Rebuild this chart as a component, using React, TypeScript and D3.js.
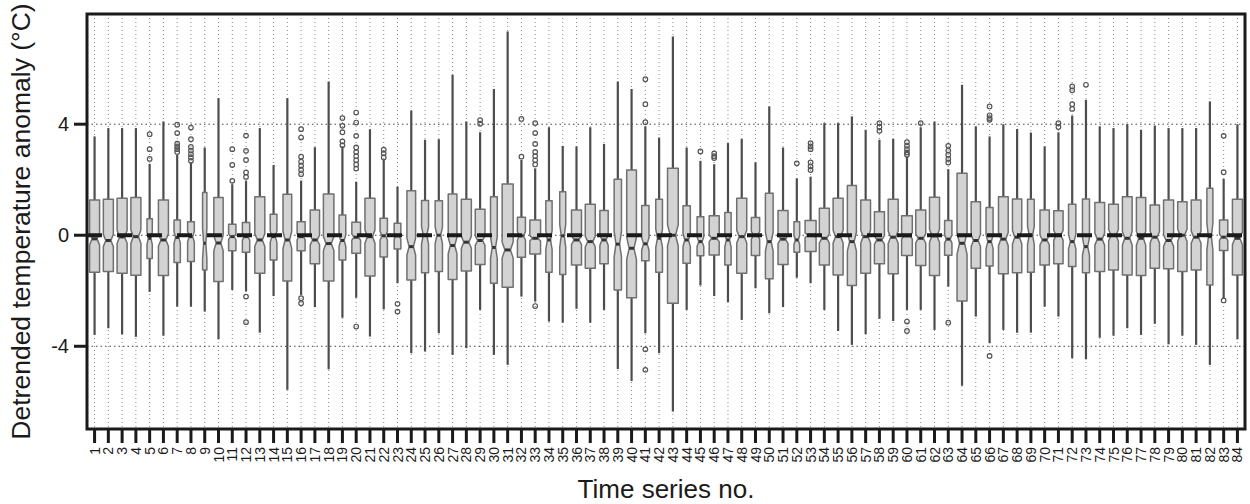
import React from "react";
import * as d3 from "d3";

// ---- data ----
const seriesNo: number[] = d3.range(1, 85);

const sampleN: number[] = [
  350, 350, 350, 350, 98, 350, 139, 157, 65, 303,
  187, 187, 350, 157, 265, 224, 303, 386, 157, 265,
  350, 187, 157, 265, 172, 187, 265, 350, 330, 157,
  424, 224, 401, 139, 126, 350, 350, 241, 187, 330,
  187, 157, 401, 187, 157, 350, 139, 350, 241, 208,
  350, 114, 424, 350, 350, 284, 330, 350, 350, 401,
  350, 350, 187, 350, 303, 172, 330, 303, 157, 303,
  303, 187, 172, 330, 330, 330, 303, 303, 350, 303,
  330, 126, 241, 350,
];

const whiskerLow: number[] = [
  -3.59, -3.35, -3.57, -3.66, -2.04, -3.62, -2.57, -2.57, -2.75, -3.75,
  -1.97, -2.03, -3.51, -2.19, -5.57, -2.15, -2.59, -4.83, -2.97, -2.25,
  -3.65, -2.67, -1.73, -4.25, -4.19, -3.53, -4.31, -4.07, -2.69, -4.31,
  -4.67, -2.21, -2.39, -3.11, -3.15, -2.65, -3.15, -2.69, -4.82, -5.25,
  -3.53, -4.25, -6.35, -2.69, -1.81, -2.19, -2.41, -3.05, -1.91, -2.81,
  -2.59, -1.53, -1.73, -2.69, -3.45, -3.95, -3.56, -3.01, -3.09, -2.69,
  -2.69, -3.41, -1.85, -5.42, -2.93, -3.89, -3.41, -3.51, -3.51, -2.57,
  -2.93, -4.43, -4.47, -3.69, -3.62, -3.35, -3.59, -3.19, -3.93, -3.62,
  -3.95, -4.67, -2.27, -3.75,
];

const lowerQuartile: number[] = [
  -1.33, -1.31, -1.37, -1.44, -0.84, -1.45, -0.98, -0.95, -1.25, -1.67,
  -0.56, -0.61, -1.37, -0.89, -1.65, -0.56, -1.03, -1.65, -0.89, -0.65,
  -1.47, -0.78, -0.5, -1.61, -1.35, -1.31, -1.59, -1.29, -1.05, -1.73,
  -1.87, -0.79, -0.68, -1.33, -1.41, -1.07, -1.19, -1.03, -1.97, -2.25,
  -0.92, -1.33, -2.45, -1.01, -0.74, -0.71, -1.07, -1.37, -0.73, -1.57,
  -1.05, -0.61, -0.59, -1.07, -1.43, -1.81, -1.37, -1.03, -1.39, -0.73,
  -1.09, -1.45, -0.72, -2.37, -1.19, -1.11, -1.39, -1.35, -1.33, -1.07,
  -1.03, -1.13, -1.35, -1.31, -1.25, -1.43, -1.45, -1.19, -1.21, -1.31,
  -1.25, -1.79, -0.55, -1.43,
];

const medianValue: number[] = [
  -0.13, -0.19, -0.06, -0.05, -0.11, -0.17, -0.08, -0.05, -0.29, -0.28,
  -0.05, -0.05, -0.17, -0.05, -0.17, -0.05, -0.17, -0.3, -0.19, -0.07,
  -0.05, -0.02, -0.02, -0.41, 0.0, 0.0, -0.37, -0.25, -0.19, -0.44,
  -0.53, -0.02, -0.11, -0.17, -0.02, -0.17, -0.23, -0.17, -0.32, -0.47,
  -0.31, -0.11, 0.0, -0.17, -0.23, -0.11, -0.17, -0.05, 0.0, -0.23,
  -0.14, -0.17, 0.0, -0.11, -0.05, -0.23, -0.05, -0.17, -0.07, -0.02,
  -0.11, -0.02, -0.14, -0.29, -0.19, -0.23, -0.14, -0.07, 0.0, -0.17,
  0.0, -0.23, -0.41, -0.14, 0.0, -0.11, -0.11, -0.07, -0.19, 0.0,
  -0.07, -0.05, -0.07, -0.11,
];

const upperQuartile: number[] = [
  1.27, 1.3, 1.33, 1.36, 0.59, 1.27, 0.55, 0.49, 1.54, 1.36,
  0.4, 0.46, 1.39, 0.76, 1.48, 0.49, 0.91, 1.49, 0.73, 0.47,
  1.33, 0.61, 0.43, 1.6, 1.25, 1.24, 1.49, 1.3, 0.94, 1.39,
  1.85, 0.65, 0.55, 1.24, 1.57, 0.91, 1.12, 0.89, 2.02, 2.35,
  1.07, 1.3, 2.41, 1.06, 0.67, 0.7, 0.82, 1.33, 0.64, 1.51,
  0.89, 0.49, 0.53, 0.97, 1.33, 1.79, 1.27, 0.85, 1.3, 0.7,
  0.91, 1.37, 0.53, 2.23, 1.21, 1.0, 1.39, 1.31, 1.3, 0.91,
  0.88, 1.12, 1.31, 1.18, 1.12, 1.39, 1.36, 1.09, 1.27, 1.21,
  1.27, 1.69, 0.55, 1.3,
];

const whiskerHigh: number[] = [
  3.56, 3.86, 3.86, 3.86, 2.57, 4.1, 2.89, 2.62, 3.16, 4.94,
  1.84, 1.97, 3.86, 2.53, 4.94, 1.97, 3.17, 5.54, 3.2, 1.93,
  3.82, 2.71, 1.75, 4.49, 3.44, 3.46, 5.78, 4.1, 3.71, 5.27,
  7.34, 2.71, 2.41, 3.89, 3.22, 3.2, 3.89, 3.29, 5.54, 5.27,
  3.92, 3.52, 7.16, 3.16, 2.68, 2.56, 3.32, 3.47, 2.63, 4.64,
  3.16, 2.05, 2.11, 4.04, 4.04, 4.28, 3.8, 3.44, 3.47, 2.83,
  3.89, 4.1, 2.38, 5.42, 3.92, 3.56, 4.0, 3.83, 3.7, 3.2,
  3.71, 4.31, 4.88, 3.92, 3.86, 4.0, 3.8, 3.95, 3.86, 3.86,
  3.86, 4.82, 2.03, 4.0,
];

// outliers: series numbers and their outlying values
const outlierSeries: number[] = [5, 7, 8, 11, 12, 16, 19, 20, 22, 23, 29, 32, 33, 41, 45, 46, 52, 53, 58, 60, 61, 63, 66, 71, 72, 73, 83];
const outlierValues: number[][] = [
  [3.64, 3.1, 2.75],
  [3.98, 3.68, 3.3, 3.2, 3.1, 3.0],
  [3.88, 3.46, 3.18, 3.05, 2.92, 2.8, 2.68],
  [3.1, 2.53, 1.96],
  [3.59, 3.04, 2.71, 2.26, 2.1, -2.21, -3.13],
  [3.82, 3.52, 2.83, 2.65, 2.5, 2.35, 2.2, -2.27, -2.45],
  [4.22, 3.94, 3.71, 3.38, 3.24],
  [4.42, 4.06, 3.58, 3.16, 3.0, 2.85, 2.7, 2.55, 2.4, -3.29],
  [3.08, 2.95, 2.8],
  [-2.47, -2.75],
  [4.15, 4.02],
  [4.19, 2.83],
  [4.04, 3.68, 3.29, 3.0, 2.85, 2.7, 2.55, -2.55],
  [5.62, 4.72, 4.07, -4.11, -4.85],
  [3.02],
  [2.95, 2.85, 2.78],
  [2.59],
  [3.32, 3.2, 3.1, 2.62, 2.48, 2.35],
  [4.04, 3.9, 3.76],
  [3.35, 3.22, 3.1, 2.98, 2.9, -3.11, -3.45],
  [4.04],
  [3.22, 3.05, 2.9, 2.75, 2.62, -3.15],
  [4.64, 4.32, 4.22, 4.16, -4.35],
  [4.04, 3.9],
  [5.36, 5.22, 4.72, 4.55],
  [5.42],
  [3.58, 2.27, -2.35],
];

const yTicks: number[] = [-4, 0, 4];
const yTitle = "Detrended temperature anomaly (\u00B0C)";
const xTitle = "Time series no.";

const W = 1250;
const H = 504;

export default function App() {
  const left = 87, right = 1245, top = 14, bottom = 429;
  const x = d3.scaleLinear().domain([0.45, 84.55]).range([left, right]);
  const y = d3.scaleLinear().domain([-6.98, 7.97]).range([bottom, top]);
  const step = x(2) - x(1);
  const maxSqrt = Math.sqrt(d3.max(sampleN) as number);
  const line = d3.line<[number, number]>();
  const font = "'Liberation Sans', Arial, Helvetica, sans-serif";

  const boxes = seriesNo.map((s, i) => {
    const cx = x(s);
    const w = (0.8 * step * Math.sqrt(sampleN[i])) / maxSqrt;
    const q1 = lowerQuartile[i], q3 = upperQuartile[i], md = medianValue[i];
    const notch = (1.58 * (q3 - q1)) / Math.sqrt(sampleN[i]);
    const pts: [number, number][] = [
      [cx - w / 2, y(q1)],
      [cx - w / 2, y(md - notch)],
      [cx - w / 4, y(md)],
      [cx - w / 2, y(md + notch)],
      [cx - w / 2, y(q3)],
      [cx + w / 2, y(q3)],
      [cx + w / 2, y(md + notch)],
      [cx + w / 4, y(md)],
      [cx + w / 2, y(md - notch)],
      [cx + w / 2, y(q1)],
    ];
    return { s, cx, w, i, d: line(pts) + "Z" };
  });

  return (
    <svg
      width={W}
      height={H}
      style={{ position: "absolute", left: 0, top: 0, display: "block", background: "#fff" }}
      fontFamily={font}
    >
      {/* vertical dotted grid */}
      {seriesNo.map((s) => (
        <line key={"vg" + s} x1={x(s)} x2={x(s)} y1={top} y2={bottom} stroke="#8a8a8a" strokeWidth={1} strokeDasharray="1 3" />
      ))}
      {/* horizontal dotted grid */}
      {yTicks.map((t) => (
        <line key={"hg" + t} x1={left} x2={right} y1={y(t)} y2={y(t)} stroke="#444" strokeWidth={1} strokeDasharray="1.5 3" />
      ))}
      {/* whiskers */}
      {boxes.map((b) => (
        <g key={"wh" + b.s}>
          <line x1={b.cx} x2={b.cx} y1={y(whiskerHigh[b.i])} y2={y(upperQuartile[b.i])} stroke="#4d4d4d" strokeWidth={2.2} />
          <line x1={b.cx} x2={b.cx} y1={y(lowerQuartile[b.i])} y2={y(whiskerLow[b.i])} stroke="#4d4d4d" strokeWidth={2.2} />
        </g>
      ))}
      {/* boxes */}
      {boxes.map((b) => (
        <g key={"bx" + b.s}>
          <path d={b.d} fill="#d3d3d3" stroke="#707070" strokeWidth={1.5} strokeLinejoin="round" />
          <line x1={b.cx - b.w / 4} x2={b.cx + b.w / 4} y1={y(medianValue[b.i])} y2={y(medianValue[b.i])} stroke="#333" strokeWidth={3} />
        </g>
      ))}
      {/* outliers */}
      {outlierSeries.map((s, k) =>
        outlierValues[k].map((v, j) => (
          <circle key={"o" + s + "_" + j} cx={x(s)} cy={y(v)} r={2.3} fill="none" stroke="#555" strokeWidth={1.2} />
        ))
      )}
      {/* dashed zero line */}
      <line x1={left} x2={right} y1={y(0)} y2={y(0)} stroke="#1a1a1a" strokeWidth={4} strokeDasharray="15 15" />
      {/* frame */}
      <rect x={left} y={top} width={right - left} height={bottom - top} fill="none" stroke="#1a1a1a" strokeWidth={3} />
      {/* y axis */}
      {yTicks.map((t) => (
        <g key={"yt" + t}>
          <line x1={left - 13} x2={left} y1={y(t)} y2={y(t)} stroke="#1a1a1a" strokeWidth={3} />
          <text x={left - 18} y={y(t)} dy="0.36em" textAnchor="end" fontSize={20} fill="#1a1a1a">
            {t}
          </text>
        </g>
      ))}
      {/* x axis */}
      {seriesNo.map((s) => (
        <g key={"xt" + s}>
          <line x1={x(s)} x2={x(s)} y1={bottom} y2={bottom + 14} stroke="#1a1a1a" strokeWidth={3} />
          <text
            transform={`translate(${x(s)},${bottom + 18}) rotate(-90)`}
            dy="0.36em"
            textAnchor="end"
            fontSize={14}
            fill="#1a1a1a"
          >
            {s}
          </text>
        </g>
      ))}
      <text x={(left + right) / 2} y={498} textAnchor="middle" fontSize={26} fill="#1a1a1a">
        {xTitle}
      </text>
      <text transform={`translate(30,${(top + bottom) / 2}) rotate(-90)`} textAnchor="middle" fontSize={26.5} fill="#1a1a1a">
        {yTitle}
      </text>
    </svg>
  );
}
